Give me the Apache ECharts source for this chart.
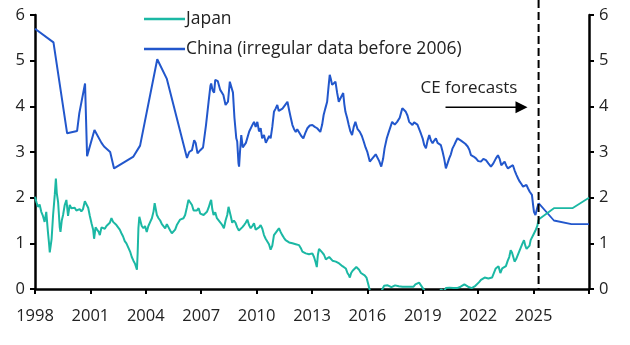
<!DOCTYPE html>
<html>
<head>
<meta charset="utf-8">
<script src="https://cdn.jsdelivr.net/npm/echarts@6/dist/echarts.min.js"></script>
<style>html,body{margin:0;padding:0;background:#fff}#c{width:630px;height:345px}</style>
</head>
<body>
<div id="c"></div>
<script>
// ---------- DATA ----------
const xTicks = [1998, 2001, 2004, 2007, 2010, 2013, 2016, 2019, 2022, 2025];
const yTicks = [0, 1, 2, 3, 4, 5, 6];
const forecastStart = 2025.27;

const chinaYears = [
1998.0,1999.0,1999.74,2000.28,2000.4,2000.71,2000.82,2001.22,2001.6,2001.74,2001.8,2002.07,2002.28,2003.33,2003.69,2004.62,2005.14,2006.23,
2006.35,2006.5,2006.62,2006.7,2006.8,2006.95,2007.1,2007.2,2007.26,2007.4,2007.5,2007.54,2007.62,2007.7,2007.76,2007.9,2008.03,2008.2,2008.32,2008.45,2008.55,2008.65,2008.72,2008.8,2008.9,2008.95,2009.02,2009.05,2009.1,2009.17,2009.25,2009.32,2009.42,2009.5,2009.6,2009.68,2009.78,2009.86,2009.95,
2010.04,2010.13,2010.22,2010.3,2010.4,2010.5,2010.58,2010.68,2010.76,2010.85,2010.94,2011.03,2011.12,2011.2,2011.3,2011.4,2011.49,2011.58,2011.67,2011.76,2011.85,2011.94,2012.03,2012.12,2012.2,2012.3,2012.42,2012.53,2012.64,2012.75,2012.88,
2013.02,2013.15,2013.28,2013.45,2013.55,2013.63,2013.72,2013.82,2013.9,2013.96,2014.02,2014.09,2014.18,2014.27,2014.36,2014.45,2014.57,2014.69,2014.75,2014.81,2014.9,2014.99,2015.08,2015.17,2015.26,2015.35,2015.47,2015.59,2015.7,2015.8,2015.9,2015.99,
2016.06,2016.13,2016.25,2016.35,2016.45,2016.53,2016.64,2016.75,2016.85,2016.93,2017.05,2017.16,2017.25,2017.34,2017.48,2017.61,2017.75,2017.89,2017.95,2018.08,2018.17,2018.26,2018.35,2018.44,2018.53,2018.62,2018.71,2018.8,2018.9,2018.99,
2019.08,2019.17,2019.26,2019.35,2019.44,2019.53,2019.62,2019.71,2019.8,2019.89,2019.98,2020.07,2020.16,2020.25,2020.34,2020.43,2020.52,2020.61,2020.7,2020.79,2020.88,2020.98,2021.07,2021.16,2021.3,2021.43,2021.52,2021.61,2021.75,2021.88,
2022.0,2022.15,2022.28,2022.42,2022.55,2022.69,2022.82,2022.96,2023.07,2023.16,2023.25,2023.34,2023.43,2023.52,2023.61,2023.75,2023.88,2023.97,2024.07,2024.16,2024.25,2024.34,2024.43,2024.52,2024.61,2024.7,2024.79,2024.85,2024.91,2024.97,2025.02,2025.1,2025.18,2025.27];
const chinaValues = [
5.70,5.40,3.41,3.46,3.85,4.50,2.91,3.48,3.20,3.12,3.15,3.00,2.64,2.90,3.14,5.03,4.60,2.87,
3.00,3.04,3.26,3.20,2.97,3.04,3.10,3.12,3.59,4.10,4.45,4.50,4.35,4.30,4.58,4.55,4.36,4.25,4.03,4.10,4.54,4.54,4.30,3.75,3.30,3.23,2.75,2.68,3.00,3.37,3.10,3.08,3.20,3.23,3.45,3.44,3.60,3.66,3.55,
3.66,3.45,3.52,3.30,3.37,3.20,3.23,3.35,3.30,3.55,3.88,3.95,4.03,3.90,3.88,3.95,3.92,4.05,4.10,3.92,3.75,3.59,3.50,3.44,3.50,3.52,3.35,3.30,3.42,3.52,3.58,
3.59,3.55,3.52,3.44,3.60,3.81,3.95,4.10,4.45,4.69,4.60,4.47,4.50,4.54,4.30,4.10,4.20,4.29,4.05,3.88,3.75,3.59,3.45,3.37,3.55,3.66,3.50,3.44,3.35,3.23,3.10,3.01,
2.90,2.79,2.85,2.90,2.95,2.93,2.80,2.68,2.85,3.08,3.30,3.44,3.55,3.66,3.60,3.66,3.75,3.96,3.99,3.88,3.80,3.66,3.65,3.59,3.65,3.66,3.60,3.59,3.40,3.30,
3.15,3.08,3.25,3.37,3.25,3.19,3.25,3.30,3.20,3.23,3.15,3.01,2.85,2.64,2.75,2.86,2.95,3.08,3.15,3.23,3.30,3.30,3.25,3.23,3.18,3.12,3.05,2.93,2.90,2.86,
2.80,2.79,2.85,2.82,2.75,2.68,2.75,2.86,2.93,2.85,2.71,2.75,2.79,2.70,2.64,2.68,2.71,2.60,2.50,2.42,2.35,2.30,2.24,2.26,2.28,2.20,2.13,2.10,2.06,1.85,1.69,1.62,1.75,1.88];

const japanYears = [
1998.0,1998.08,1998.16,1998.25,1998.34,1998.43,1998.52,1998.61,1998.7,1998.76,1998.8,1998.85,1998.9,1998.98,1999.07,1999.13,1999.18,1999.25,1999.34,1999.38,1999.45,1999.52,1999.61,1999.7,1999.79,1999.88,1999.97,
2000.06,2000.15,2000.24,2000.33,2000.42,2000.51,2000.6,2000.7,2000.79,2000.88,2000.97,2001.06,2001.15,2001.2,2001.28,2001.36,2001.45,2001.51,2001.6,2001.69,2001.78,2001.87,2001.96,2002.05,2002.14,2002.23,2002.32,2002.41,2002.5,2002.59,2002.68,2002.77,2002.86,2002.95,
2003.04,2003.15,2003.24,2003.33,2003.42,2003.52,2003.56,2003.6,2003.65,2003.69,2003.78,2003.87,2003.96,2004.05,2004.14,2004.24,2004.33,2004.42,2004.48,2004.51,2004.6,2004.69,2004.78,2004.87,2004.96,2005.05,2005.14,2005.23,2005.32,2005.41,2005.5,2005.59,2005.68,2005.77,2005.86,2005.95,
2006.04,2006.13,2006.22,2006.31,2006.4,2006.5,2006.59,2006.68,2006.77,2006.86,2006.95,2007.04,2007.13,2007.22,2007.31,2007.4,2007.49,2007.54,2007.6,2007.67,2007.76,2007.85,2007.94,2008.05,2008.14,2008.23,2008.32,2008.41,2008.48,2008.54,2008.6,2008.68,2008.77,2008.86,2008.95,
2009.04,2009.13,2009.22,2009.32,2009.41,2009.5,2009.59,2009.68,2009.77,2009.86,2009.95,2010.04,2010.13,2010.22,2010.31,2010.4,2010.49,2010.58,2010.67,2010.76,2010.85,2010.94,2011.03,2011.12,2011.21,2011.3,2011.39,2011.48,2011.57,2011.66,2011.76,2011.85,2011.94,
2012.03,2012.12,2012.21,2012.3,2012.39,2012.48,2012.57,2012.66,2012.75,2012.84,2012.93,2013.02,2013.11,2013.2,2013.26,2013.32,2013.38,2013.45,2013.55,2013.65,2013.75,2013.84,2013.93,2014.02,2014.11,2014.2,2014.29,2014.38,2014.47,2014.56,2014.65,2014.74,2014.83,2014.92,
2015.0,2015.05,2015.12,2015.2,2015.3,2015.4,2015.47,2015.55,2015.65,2015.75,2015.85,2015.95,2016.05,2016.14,2016.25,2016.35,2016.45,2016.55,2016.65,2016.75,2016.82,2016.9,2017.0,2017.1,2017.2,2017.3,2017.4,2017.5,2017.6,2017.7,2017.8,2017.9,
2018.0,2018.1,2018.2,2018.3,2018.4,2018.5,2018.6,2018.7,2018.8,2018.9,2019.0,2019.08,2019.2,2019.4,2019.6,2019.7,2019.8,2019.9,2019.98,2020.05,2020.15,2020.25,2020.35,2020.45,2020.55,2020.65,2020.75,2020.85,2020.95,
2021.05,2021.15,2021.25,2021.35,2021.45,2021.55,2021.65,2021.75,2021.85,2021.95,2022.05,2022.15,2022.25,2022.35,2022.45,2022.55,2022.65,2022.75,2022.85,2022.95,2023.02,2023.1,2023.2,2023.3,2023.4,2023.5,2023.6,2023.68,2023.76,2023.83,2023.9,2023.97,
2024.05,2024.12,2024.2,2024.3,2024.4,2024.48,2024.55,2024.62,2024.7,2024.78,2024.84,2024.92,2025.0,2025.1,2025.2,2025.27];
const japanValues = [
2.02,1.90,1.80,1.85,1.69,1.60,1.47,1.69,1.25,1.00,0.80,0.95,1.10,1.62,2.06,2.42,2.10,1.91,1.35,1.25,1.50,1.62,1.84,1.95,1.60,1.84,1.77,
1.80,1.78,1.72,1.72,1.75,1.70,1.75,1.92,1.85,1.78,1.60,1.44,1.30,1.10,1.35,1.30,1.25,1.18,1.35,1.38,1.32,1.38,1.40,1.45,1.55,1.47,1.44,1.40,1.36,1.30,1.22,1.15,1.05,1.00,
0.96,0.82,0.70,0.62,0.55,0.42,0.80,1.33,1.58,1.55,1.38,1.33,1.38,1.25,1.38,1.47,1.55,1.70,1.88,1.84,1.62,1.55,1.50,1.42,1.38,1.33,1.42,1.40,1.28,1.22,1.22,1.30,1.40,1.42,1.52,1.48,
1.55,1.62,1.78,1.95,1.90,1.84,1.72,1.70,1.72,1.77,1.65,1.68,1.62,1.65,1.69,1.78,1.90,1.95,1.75,1.62,1.68,1.55,1.55,1.45,1.40,1.33,1.50,1.62,1.80,1.84,1.60,1.45,1.50,1.45,1.35,
1.28,1.25,1.35,1.40,1.45,1.52,1.40,1.33,1.38,1.44,1.30,1.33,1.35,1.40,1.32,1.18,1.10,1.07,0.98,0.86,0.95,1.18,1.22,1.28,1.33,1.25,1.18,1.12,1.07,1.05,1.02,1.00,1.00,
0.98,0.98,1.00,0.96,0.90,0.82,0.80,0.78,0.78,0.76,0.75,0.78,0.70,0.58,0.48,0.75,0.88,0.85,0.80,0.75,0.65,0.62,0.70,0.66,0.62,0.63,0.60,0.58,0.56,0.52,0.50,0.48,0.45,0.35,
0.30,0.25,0.35,0.40,0.40,0.48,0.52,0.42,0.35,0.32,0.30,0.25,0.10,-0.05,-0.10,-0.12,-0.20,-0.25,-0.10,-0.05,0.00,0.07,0.06,0.08,0.06,0.04,0.06,0.08,0.04,0.06,0.05,0.05,
0.06,0.05,0.04,0.05,0.03,0.05,0.10,0.12,0.14,0.08,0.02,-0.03,-0.07,-0.10,-0.20,-0.25,-0.15,-0.08,-0.01,0.01,-0.05,0.02,0.01,0.03,0.03,0.02,0.03,0.02,0.02,
0.05,0.09,0.10,0.08,0.05,0.03,0.02,0.06,0.07,0.08,0.15,0.20,0.23,0.25,0.24,0.23,0.22,0.25,0.26,0.45,0.49,0.50,0.35,0.45,0.43,0.50,0.62,0.70,0.85,0.80,0.70,0.60,
0.65,0.72,0.75,0.90,1.00,1.07,0.95,0.88,0.90,0.95,1.07,1.10,1.20,1.28,1.38,1.52];

const japanForecastYears = [2025.27, 2026.1, 2027.1, 2028.0];
const japanForecastValues = [1.52, 1.77, 1.77, 2.00];
const chinaForecastYears = [2025.27, 2026.1, 2027.05, 2028.0];
const chinaForecastValues = [1.88, 1.50, 1.42, 1.42];

const annotationText = 'CE forecasts';
const arrowFrom = [2020.23, 3.98];
const arrowTo = [2024.67, 3.98];
const annotationPos = [2021.5, 4.4];

// ---------- CHART ----------
const JAPAN = '#1bb8a4';
const CHINA = '#2257cc';
const FONT = '"Open Sans", sans-serif';
const zip = (xs, ys) => xs.map((x, i) => [x, ys[i]]);

const chart = echarts.init(document.getElementById('c'), null, {renderer: 'canvas'});
const axisLineStyle = {color: '#000', width: 2.5};
const yAxisCommon = {
  type: 'value', min: 0, max: 6, interval: 1,
  splitLine: {show: false},
  axisLine: {show: true, lineStyle: axisLineStyle},
  axisTick: {show: true, length: 5, lineStyle: {color: '#000', width: 2}},
  axisLabel: {color: '#222', fontSize: 16.5, fontFamily: FONT, margin: 10}
};
chart.setOption({
  animation: false,
  backgroundColor: '#fff',
  grid: {left: 35, right: 41, top: 15, bottom: 56, containLabel: false},
  legend: {
    orient: 'vertical', left: 139, top: 5, itemWidth: 41, itemHeight: 2.5, itemGap: 12,
    icon: 'rect',
    textStyle: {fontSize: 17.5, fontFamily: FONT, color: '#222', padding: [0, 0, 0, -4]},
    data: ['Japan', 'China (irregular data before 2006)']
  },
  xAxis: {
    type: 'value', min: 1998, max: 2028, interval: 3,
    splitLine: {show: false},
    axisLine: {show: true, lineStyle: axisLineStyle, onZero: false},
    axisTick: {show: true, length: 5, lineStyle: {color: '#000', width: 2}},
    axisLabel: {color: '#222', fontSize: 16.5, fontFamily: FONT, margin: 19,
      formatter: v => xTicks.indexOf(v) >= 0 ? String(v) : ''}
  },
  yAxis: [
    Object.assign({}, yAxisCommon, {position: 'left'}),
    Object.assign({}, yAxisCommon, {position: 'right'})
  ],
  series: [
    {name: 'Japan', type: 'line', data: zip(japanYears, japanValues), symbol: 'none',
      lineStyle: {color: JAPAN, width: 2}, itemStyle: {color: JAPAN}, clip: true, z: 3},
    {name: 'China (irregular data before 2006)', type: 'line', data: zip(chinaYears, chinaValues), symbol: 'none',
      lineStyle: {color: CHINA, width: 2}, itemStyle: {color: CHINA}, clip: true, z: 2},
    {name: 'Japan forecast', type: 'line', data: zip(japanForecastYears, japanForecastValues), symbol: 'none',
      lineStyle: {color: JAPAN, width: 1.8}, itemStyle: {color: JAPAN}, clip: true, z: 3},
    {name: 'China forecast', type: 'line', data: zip(chinaForecastYears, chinaForecastValues), symbol: 'none',
      lineStyle: {color: CHINA, width: 1.8}, itemStyle: {color: CHINA}, clip: true, z: 2}
  ]
});

// annotation graphics placed via the chart's own scales
const px = p => chart.convertToPixel({xAxisIndex: 0, yAxisIndex: 0}, p);
const gridTopPx = px([forecastStart, 6])[1];
const gridBottomPx = px([forecastStart, 0])[1];
const xDash = px([forecastStart, 0])[0];
const a0 = px(arrowFrom), a1 = px(arrowTo), tp = px(annotationPos);
chart.setOption({
  graphic: [
    {type: 'line', shape: {x1: xDash, y1: gridTopPx - 15, x2: xDash, y2: gridBottomPx},
      style: {stroke: '#000', lineWidth: 2, lineDash: [8, 4]}, z: 10},
    {type: 'line', shape: {x1: a0[0], y1: a0[1], x2: a1[0] - 10, y2: a1[1]},
      style: {stroke: '#000', lineWidth: 1.5}, z: 10},
    {type: 'polygon', shape: {points: [[a1[0], a1[1]], [a1[0] - 12, a1[1] - 6], [a1[0] - 12, a1[1] + 6]]},
      style: {fill: '#000'}, z: 10},
    {type: 'text', x: tp[0], y: tp[1],
      style: {text: annotationText, fontSize: 17, fontFamily: FONT, fill: '#222', align: 'center', verticalAlign: 'middle'}, z: 10}
  ]
});
</script>
</body>
</html>
